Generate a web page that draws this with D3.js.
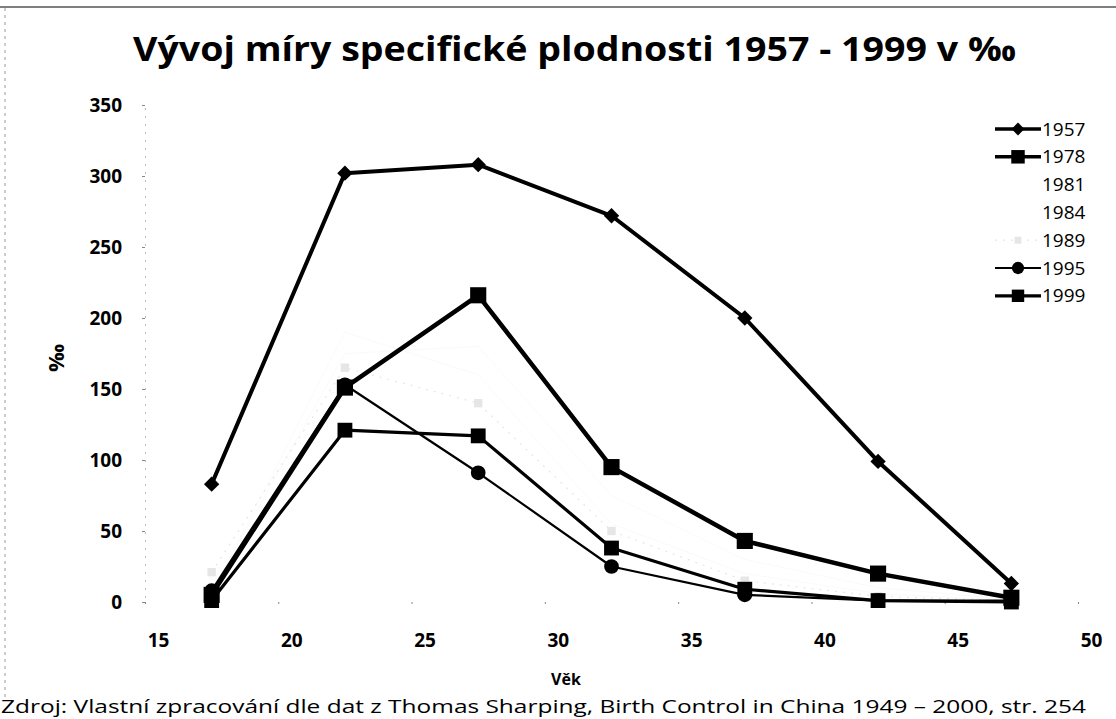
<!DOCTYPE html>
<html>
<head>
<meta charset="utf-8">
<script src="https://cdn.jsdelivr.net/npm/d3@7"></script>
<style>
  body { margin: 0; background: #fff; }
  text { font-family: "Open Sans", Lato, sans-serif; }
</style>
</head>
<body>
<svg width="1116" height="719"></svg>
<script>
// age group midpoints (x) and rates in per mille for each year
const ages = [17.5, 22.5, 27.5, 32.5, 37.5, 42.5, 47.5];
const years = ['1957', '1978', '1981', '1984', '1989', '1995', '1999'];
const v1957 = [83, 302, 308, 272, 200, 99, 13];
const v1978 = [5, 151, 216, 95, 43, 20, 3];
const v1981 = [8, 175, 180, 75, 30, 10, 2];
const v1984 = [6, 190, 160, 55, 20, 6, 1];
const v1989 = [21, 165, 140, 50, 15, 4, 1];
const v1995 = [8, 153, 91, 25, 5, 1, 1];
const v1999 = [1, 121, 117, 38, 9, 1, 0];
const xTicks = [15, 20, 25, 30, 35, 40, 45, 50];
const yTicks = [0, 50, 100, 150, 200, 250, 300, 350];

const svg = d3.select('svg');
const width = +svg.attr('width');
const height = +svg.attr('height');

// look of each series (marker, stroke)
const styles = {
  '1957': {marker: 'diamond', color: '#000', width: 4, size: 150},
  '1978': {marker: 'square', color: '#000', width: 4.5, size: 260},
  '1981': {marker: 'none', color: '#fafafa', width: 1, size: 0},
  '1984': {marker: 'none', color: '#fafafa', width: 1, size: 0},
  '1989': {marker: 'square', color: '#e6e6e6', width: 1.2, size: 70, dash: '2,6'},
  '1995': {marker: 'circle', color: '#000', width: 2.2, size: 170},
  '1999': {marker: 'square', color: '#000', width: 3.2, size: 220}
};
const valuesByYear = {'1957': v1957, '1978': v1978, '1981': v1981, '1984': v1984,
  '1989': v1989, '1995': v1995, '1999': v1999};

const series = years.map(y => ({
  year: y,
  style: styles[y],
  points: ages.map((a, i) => ({x: a, y: valuesByYear[y][i]}))
}));

const xScale = d3.scaleLinear().domain([15, 50]).range([145, 1078]);
const yScale = d3.scaleLinear().domain([0, 350]).range([602, 105]);

// scan frame lines
svg.append('line')
  .attr('x1', 0).attr('x2', width).attr('y1', 7).attr('y2', 7)
  .attr('stroke', '#555').attr('stroke-width', 1.5);
svg.append('line')
  .attr('x1', 5).attr('x2', 5).attr('y1', 8).attr('y2', 700)
  .attr('stroke', '#999').attr('stroke-width', 1).attr('stroke-dasharray', '3,4');

// title
svg.append('text')
  .attr('x', 133).attr('y', 61)
  .attr('font-size', 34).attr('font-weight', 'bold')
  .attr('textLength', 883).attr('lengthAdjust', 'spacingAndGlyphs')
  .text('Vývoj míry specifické plodnosti 1957 - 1999 v ‰');

// y axis
const yAxis = d3.axisLeft(yScale).tickValues(yTicks).tickSize(3).tickPadding(20);
const yAxisG = svg.append('g').attr('transform', 'translate(145,0)').call(yAxis);
yAxisG.select('.domain').attr('stroke', '#bbb').attr('stroke-dasharray', '2,6');
yAxisG.selectAll('.tick line').attr('stroke', '#888');
yAxisG.selectAll('.tick text')
  .attr('font-size', 19).attr('font-weight', 'bold').attr('fill', '#000')
  .attr('font-family', '"Open Sans", sans-serif');

// x axis
const xAxis = d3.axisBottom(xScale).tickValues(xTicks).tickSize(2).tickPadding(30);
const xAxisG = svg.append('g').attr('transform', 'translate(0,602)').call(xAxis);
xAxisG.select('.domain').remove();
xAxisG.selectAll('.tick line').attr('stroke', '#888');
xAxisG.selectAll('.tick text')
  .attr('dx', 13)
  .attr('font-size', 19).attr('font-weight', 'bold').attr('fill', '#000')
  .attr('font-family', '"Open Sans", sans-serif');

// axis titles
svg.append('text')
  .attr('transform', 'translate(64,358) rotate(-90)')
  .attr('text-anchor', 'middle')
  .attr('font-size', 22).attr('font-weight', 'bold')
  .text('‰');
svg.append('text')
  .attr('x', 566).attr('y', 685)
  .attr('text-anchor', 'middle')
  .attr('font-size', 16).attr('font-weight', 'bold')
  .text('Věk');

const symbolFor = m => m === 'diamond' ? d3.symbolDiamond2
  : m === 'circle' ? d3.symbolCircle : d3.symbolSquare;

const line = d3.line().x(d => xScale(d.x)).y(d => yScale(d.y));

// lighter series first, black ones on top
const order = ['1981', '1984', '1989', '1957', '1978', '1995', '1999'];
const sorted = order.map(y => series.find(s => s.year === y));

const sg = svg.append('g').selectAll('g').data(sorted).enter().append('g');
sg.append('path')
  .attr('d', d => line(d.points))
  .attr('fill', 'none')
  .attr('stroke', d => d.style.color)
  .attr('stroke-width', d => d.style.width)
  .attr('stroke-dasharray', d => d.style.dash || null)
  .attr('stroke-linejoin', 'round');
sg.filter(d => d.style.marker !== 'none').selectAll('path.pt')
  .data(d => d.points.map(p => ({p, style: d.style})))
  .enter().append('path')
    .attr('class', 'pt')
    .attr('transform', d => `translate(${xScale(d.p.x)},${yScale(d.p.y)})`)
    .attr('d', d => d3.symbol(symbolFor(d.style.marker), d.style.size)())
    .attr('fill', d => d.style.color);

// legend
const legend = svg.append('g').attr('transform', 'translate(995,129)');
const lg = legend.selectAll('g').data(series).enter().append('g')
  .attr('transform', (d, i) => `translate(0,${i * 27.8})`);
lg.filter(d => d.style.marker !== 'none').append('line')
  .attr('x1', 0).attr('x2', 46)
  .attr('stroke', d => d.style.color)
  .attr('stroke-width', d => Math.min(d.style.width, 3.5))
  .attr('stroke-dasharray', d => d.style.dash || null);
lg.filter(d => d.style.marker !== 'none').append('path')
  .attr('transform', 'translate(23,0)')
  .attr('d', d => d3.symbol(symbolFor(d.style.marker), d.style.size * 0.7)())
  .attr('fill', d => d.style.color);
lg.append('text')
  .attr('x', 47).attr('dy', '0.35em')
  .attr('font-size', 19)
  .attr('font-family', '"DejaVu Sans Condensed", "DejaVu Sans", sans-serif')
  .text(d => d.year);

// source note
svg.append('text')
  .attr('x', 1).attr('y', 713)
  .attr('font-size', 19)
  .attr('font-family', '"Noto Sans", sans-serif')
  .attr('textLength', 1085).attr('lengthAdjust', 'spacingAndGlyphs')
  .text('Zdroj: Vlastní zpracování dle dat z  Thomas Sharping, Birth Control in China 1949 – 2000, str. 254');
</script>
</body>
</html>
